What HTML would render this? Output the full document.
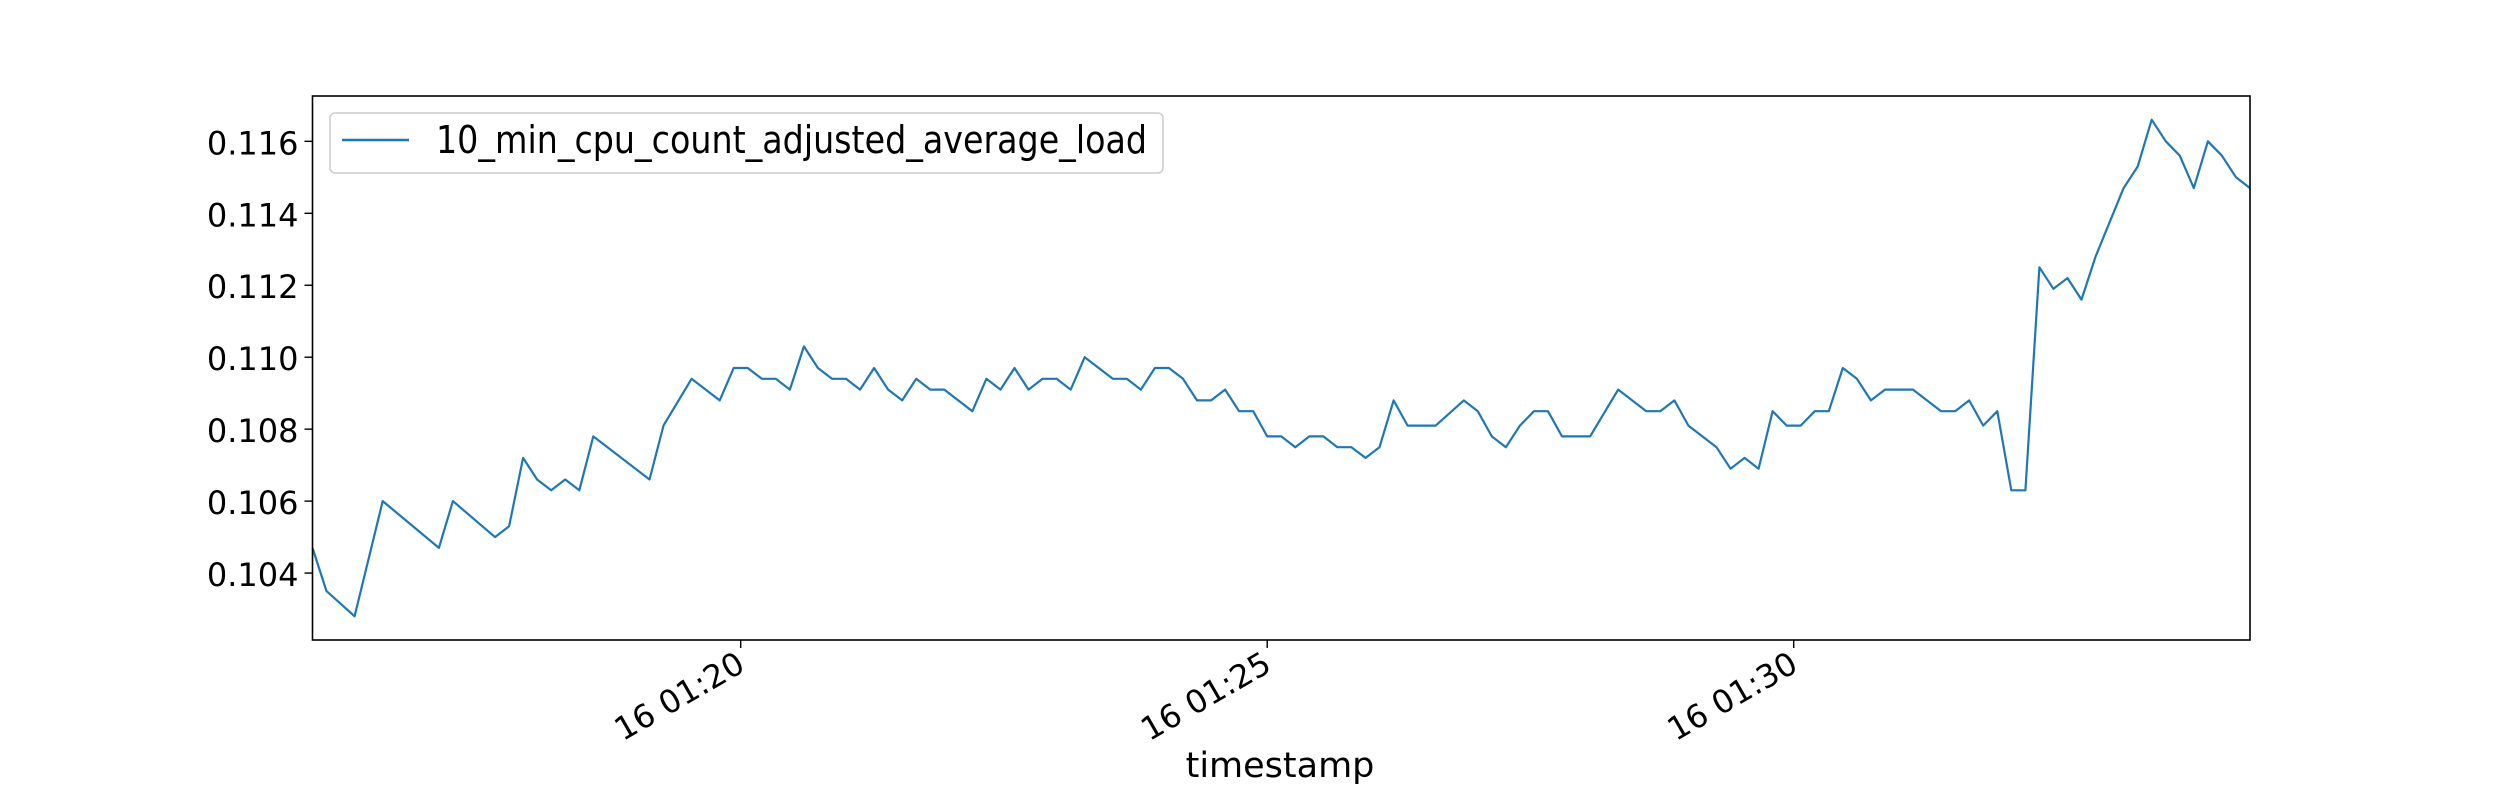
<!DOCTYPE html>
<html><head><meta charset="utf-8"><style>
html,body{margin:0;padding:0;background:#fff;}
svg{display:block;font-family:"DejaVu Sans","Liberation Sans",sans-serif;}
</style></head>
<body>
<svg id="chart" width="2500" height="800" viewBox="0 0 2500 800">
<rect x="0" y="0" width="2500" height="800" fill="#fff"/>
<g id="yaxis"></g>
<g id="xaxis"></g>
<path id="series" fill="none" stroke="#1f77b4" stroke-width="2.2" stroke-linejoin="round"/>
<rect x="312.5" y="96" width="1937.5" height="544" fill="none" stroke="#000" stroke-width="1.6"/>
<g>
<rect x="330" y="113" width="833" height="60" rx="5" fill="#fff" fill-opacity="0.8" stroke="#ccc" stroke-width="1.5"/>
<line x1="342" y1="140" x2="409" y2="140" stroke="#1f77b4" stroke-width="2.5"/>
<text x="436" y="153" font-size="38" textLength="711" lengthAdjust="spacingAndGlyphs">10_min_cpu_count_adjusted_average_load</text>
</g>
<text x="1280" y="777" font-size="35" text-anchor="middle">timestamp</text>
</svg>
<script>
// sample indices (8 s apart starting 01:15:56) and values
const idx = [0,1,3,5,9,10,13,14,15,16,17,18,19,20,24,25,27,29,30,31,32,33,34,35,36,37,38,39,40,41,42,43,44,45,47,48,49,50,51,52,53,54,55,57,58,59,60,61,62,63,64,65,66,67,68,69,70,71,72,73,74,75,76,77,78,79,80,82,83,84,85,86,87,88,89,91,93,95,96,97,98,100,101,102,103,104,105,106,107,108,109,110,111,112,114,116,117,118,119,120,121,122,123,124,125,126,127,129,130,131,132,133,134,135,136,137,138];
const values = [0.1047,0.1035,0.1028,0.1060,0.1047,0.1060,0.1050,0.1053,0.1072,0.1066,0.1063,0.1066,0.1063,0.1078,0.1066,0.1081,0.1094,0.1088,0.1097,0.1097,0.1094,0.1094,0.1091,0.1103,0.1097,0.1094,0.1094,0.1091,0.1097,0.1091,0.1088,0.1094,0.1091,0.1091,0.1085,0.1094,0.1091,0.1097,0.1091,0.1094,0.1094,0.1091,0.1100,0.1094,0.1094,0.1091,0.1097,0.1097,0.1094,0.1088,0.1088,0.1091,0.1085,0.1085,0.1078,0.1078,0.1075,0.1078,0.1078,0.1075,0.1075,0.1072,0.1075,0.1088,0.1081,0.1081,0.1081,0.1088,0.1085,0.1078,0.1075,0.1081,0.1085,0.1085,0.1078,0.1078,0.1091,0.1085,0.1085,0.1088,0.1081,0.1075,0.1069,0.1072,0.1069,0.1085,0.1081,0.1081,0.1085,0.1085,0.1097,0.1094,0.1088,0.1091,0.1091,0.1085,0.1085,0.1088,0.1081,0.1085,0.1063,0.1063,0.1125,0.1119,0.1122,0.1116,0.1128,0.1147,0.1153,0.1166,0.1160,0.1156,0.1147,0.1160,0.1156,0.1150,0.1147];
const yTicks = [0.104,0.106,0.108,0.110,0.112,0.114,0.116];
const xTickIdx = [30.5,68,105.5];
const xTickLabels = ["16 01:20","16 01:25","16 01:30"];

const L=312.5,R=2250,T=96,B=640, yMin=0.10214, yMax=0.11726, iMin=0, iMax=138;
const NS="http://www.w3.org/2000/svg";
function xs(i){return L+(i-iMin)/(iMax-iMin)*(R-L);}
function ys(v){return T+(yMax-v)/(yMax-yMin)*(B-T);}
let d="";
for(let k=0;k<idx.length;k++){d+=(k?"L":"M")+xs(idx[k]).toFixed(1)+","+ys(values[k]).toFixed(1);}
document.getElementById("series").setAttribute("d",d);
const ya=document.getElementById("yaxis");
yTicks.forEach(v=>{
  const y=ys(v);
  const ln=document.createElementNS(NS,"line");
  ln.setAttribute("x1",L-8);ln.setAttribute("x2",L);ln.setAttribute("y1",y);ln.setAttribute("y2",y);
  ln.setAttribute("stroke","#000");ln.setAttribute("stroke-width","1.4");
  
  
  ya.appendChild(ln);
  const t=document.createElementNS(NS,"text");
  t.setAttribute("x",L-14);t.setAttribute("y",y+13);t.setAttribute("font-size","32");t.setAttribute("text-anchor","end");
  t.textContent=v.toFixed(3);
  
  
  ya.appendChild(t);
});
const xa=document.getElementById("xaxis");
xTickIdx.forEach((i,k)=>{
  const x=xs(i);
  const ln=document.createElementNS(NS,"line");
  ln.setAttribute("x1",x);ln.setAttribute("x2",x);ln.setAttribute("y1",B);ln.setAttribute("y2",B+8);
  ln.setAttribute("stroke","#000");ln.setAttribute("stroke-width","1.4");
  
  
  xa.appendChild(ln);
  const t=document.createElementNS(NS,"text");
  t.setAttribute("font-size","32");t.setAttribute("text-anchor","end");
  t.setAttribute("transform","translate("+(x+6)+","+(B+30)+") rotate(-30)");
  t.textContent=xTickLabels[k];
  
  
  xa.appendChild(t);
});
</script>
</body></html>
